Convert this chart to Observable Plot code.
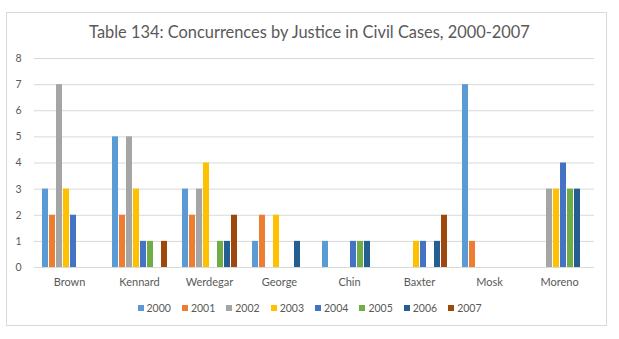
<!DOCTYPE html>
<html>
<head>
<meta charset="utf-8">
<script src="https://cdn.jsdelivr.net/npm/d3@7"></script>
<script src="https://cdn.jsdelivr.net/npm/@observablehq/plot@0.6"></script>
<style>
  html, body { margin: 0; padding: 0; background: #fff; }
  body { width: 619px; height: 339px; position: relative; overflow: hidden; font-family: Lato, "Open Sans", sans-serif; }
  #frame { position: absolute; left: 6px; top: 12px; width: 601px; height: 314px; border: 1px solid #d9d9d9; box-sizing: border-box; }
  #title { position: absolute; left: 0; top: 22px; width: 619px; text-align: center; font-size: 16.4px; color: #595959; }
  #chart { position: absolute; left: 0; top: 45px; }
  #legend { position: absolute; left: 0; top: 302px; width: 619px; display: flex; justify-content: center; font-size: 10.5px; color: #595959; }
  .item { display: flex; align-items: center; margin: 0 5.5px; }
  .sw { width: 6px; height: 6px; margin-right: 3px; }
</style>
</head>
<body>
<div id="frame"></div>
<div id="title">Table 134: Concurrences by Justice in Civil Cases, 2000-2007</div>
<div id="chart"></div>
<div id="legend"></div>
<script>
// Justices (categories) and years (series)
const justices = ["Brown", "Kennard", "Werdegar", "George", "Chin", "Baxter", "Mosk", "Moreno"];
const years = ["2000", "2001", "2002", "2003", "2004", "2005", "2006", "2007"];
const yearColors = ["#5b9bd5", "#ed7d31", "#a5a5a5", "#ffc000", "#4472c4", "#70ad47", "#255e91", "#9e480e"];

// Concurrences per justice, one array per year (same order as justices)
const y2000 = [3, 5, 3, 1, 1, 0, 7, 0];
const y2001 = [2, 2, 2, 2, 0, 0, 1, 0];
const y2002 = [7, 5, 3, 0, 0, 0, 0, 3];
const y2003 = [3, 3, 4, 2, 0, 1, 0, 3];
const y2004 = [2, 1, 0, 0, 1, 1, 0, 4];
const y2005 = [0, 1, 1, 0, 1, 0, 0, 3];
const y2006 = [0, 0, 1, 1, 1, 1, 0, 3];
const y2007 = [0, 1, 2, 0, 0, 2, 0, 0];
const yTicks = [0, 1, 2, 3, 4, 5, 6, 7, 8];

const series = [y2000, y2001, y2002, y2003, y2004, y2005, y2006, y2007];
const rows = [];
years.forEach((year, i) => {
  justices.forEach((justice, j) => {
    rows.push({justice, year, value: series[i][j]});
  });
});

const chart = Plot.plot({
  width: 619,
  height: 252,
  marginTop: 13,
  marginBottom: 30,
  marginLeft: 32,
  marginRight: 24,
  style: {fontFamily: "Lato, 'Open Sans', sans-serif", fontSize: "11px", color: "#595959", background: "transparent"},
  fx: {domain: justices, padding: 0, label: null},
  x: {domain: years, axis: null, paddingInner: 0.2, paddingOuter: 0.8},
  y: {domain: [0, 8], label: null},
  color: {domain: years, range: yearColors},
  marks: [
    Plot.gridY(yTicks, {stroke: "#d9d9d9", strokeOpacity: 1}),
    Plot.axisY(yTicks, {tickSize: 0, tickPadding: 13, label: null, fontSize: 10.5}),
    Plot.axisFx({anchor: "bottom", tickSize: 0, tickPadding: 11, label: null}),
    Plot.barY(rows, {fx: "justice", x: "year", y: "value", fill: "year"})
  ]
});
document.getElementById("chart").appendChild(chart);

// Legend built from the same year/colour arrays
const legend = d3.select("#legend");
years.forEach((year, i) => {
  const item = legend.append("div").attr("class", "item");
  item.append("div").attr("class", "sw").style("background", yearColors[i]);
  item.append("span").text(year);
});
</script>
</body>
</html>
